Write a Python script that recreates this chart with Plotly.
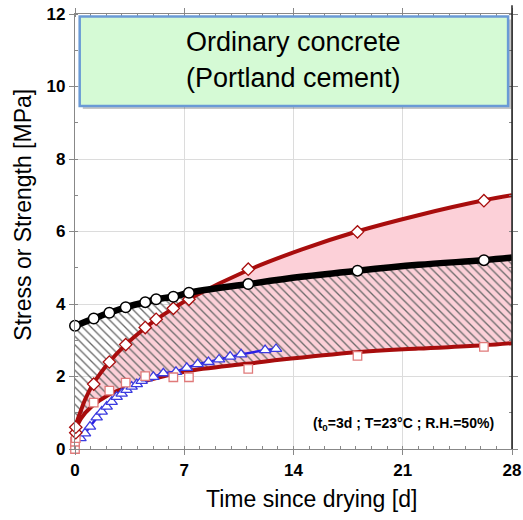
import plotly.graph_objects as go

# ---------------- data ----------------
# measured ages after drying [d]
t_test = [0, 1.2, 2.2, 3.25, 4.5, 5.2, 6.3, 7.3, 11.1, 18.1, 26.2]
# tensile strength (circles, black)
strength = [3.40, 3.60, 3.76, 3.91, 4.05, 4.13, 4.20, 4.31, 4.55, 4.92, 5.21]
# black strength curve
t_strength_curve = [0, 1.2, 2.2, 3.25, 4.5, 5.2, 6.3, 7.3, 11.1, 14.5, 18.1, 22, 26.2, 28]
strength_curve = [3.40, 3.60, 3.76, 3.91, 4.05, 4.13, 4.20, 4.31, 4.55, 4.75, 4.92, 5.08, 5.21, 5.28]

# elastic stress (diamonds, upper red)
t_diam = [0.05, 0.05, 1.2, 2.2, 3.25, 4.5, 5.2, 6.3, 7.3, 11.1, 18.1, 26.2]
stress_elastic = [0.45, 0.60, 1.79, 2.40, 2.88, 3.35, 3.58, 3.88, 4.13, 4.96, 5.99, 6.85]
t_upper_curve = [0, 0.2, 0.43, 0.64, 1.17, 2.2, 3.25, 4.53, 5.23, 6.3, 7.27, 11.07, 14.5, 18.06, 22, 26.2, 28]
upper_curve = [0.55, 0.85, 1.12, 1.36, 1.80, 2.40, 2.88, 3.35, 3.58, 3.88, 4.13, 4.93, 5.50, 6.0, 6.45, 6.86, 7.0]

# relaxed stress (squares, lower red)
t_sq = [0, 0, 0.05, 1.2, 2.2, 3.25, 4.5, 6.3, 7.3, 11.1, 18.1, 26.2]
stress_relaxed = [0.0, 0.2, 0.3, 1.28, 1.61, 1.83, 2.01, 1.98, 1.98, 2.21, 2.57, 2.82]
t_lower_curve = [0, 0.4, 1.07, 2.14, 3.2, 4.7, 7.1, 11, 13.1, 18.06, 22, 26.2, 28]
lower_curve = [0.5, 0.85, 1.17, 1.49, 1.68, 1.9, 2.14, 2.35, 2.46, 2.67, 2.77, 2.86, 2.92]

# restrained shrinkage test (blue triangles)
t_blue = [0.35, 0.64, 0.96, 1.39, 1.71, 2.03, 2.35, 2.67, 2.99, 3.3, 3.63, 3.96, 4.27, 4.6,
          5.02, 5.66, 6.47, 7.16, 7.86, 8.55, 9.23, 9.94, 10.64, 12.18, 12.88]
stress_blue = [0.30, 0.43, 0.62, 0.87, 1.03, 1.17, 1.30, 1.44, 1.53, 1.63, 1.72, 1.79, 1.88, 1.95,
               1.99, 2.09, 2.13, 2.24, 2.34, 2.40, 2.47, 2.55, 2.61, 2.73, 2.76]

x_ticks = [0, 7, 14, 21, 28]
y_ticks = [0, 2, 4, 6, 8, 10, 12]

title_lines = ["Ordinary concrete", "(Portland cement)"]
conditions = "(t<sub>0</sub>=3d ; T=23°C ; R.H.=50%)"
x_title = "Time since drying [d]"
y_title = "Stress or Strength [MPa]"

# ---------------- styles ----------------
RED = "#a80d0d"
PINK = "#fcd0d8"
FONT = "Liberation Sans, Arial, sans-serif"

fig = go.Figure()

# pink band between the two red curves
fig.add_trace(go.Scatter(x=t_lower_curve, y=lower_curve, mode="lines",
                         line=dict(width=0, shape="spline", color=RED),
                         hoverinfo="skip", showlegend=False))
fig.add_trace(go.Scatter(x=t_upper_curve, y=upper_curve, mode="lines",
                         line=dict(width=0, shape="spline", color=RED),
                         fill="tonexty", fillcolor=PINK,
                         hoverinfo="skip", showlegend=False))
# hatched band between black strength curve and lower red curve
fig.add_trace(go.Scatter(x=t_lower_curve, y=lower_curve, mode="lines",
                         line=dict(width=0, shape="spline", color=RED),
                         hoverinfo="skip", showlegend=False))
fig.add_trace(go.Scatter(x=t_strength_curve, y=strength_curve, mode="lines",
                         line=dict(width=0, shape="spline", color="black"),
                         fill="tonexty", fillcolor="rgba(0,0,0,0)",
                         fillpattern=dict(shape="\\", fgcolor="#6a6a6a",
                                          bgcolor="rgba(0,0,0,0)",
                                          size=6, solidity=0.22, fillmode="replace"),
                         hoverinfo="skip", showlegend=False))

# visible lines
fig.add_trace(go.Scatter(x=t_lower_curve, y=lower_curve, mode="lines",
                         line=dict(width=4, shape="spline", color=RED),
                         showlegend=False, cliponaxis=False))
fig.add_trace(go.Scatter(x=t_upper_curve, y=upper_curve, mode="lines",
                         line=dict(width=4, shape="spline", color=RED),
                         showlegend=False, cliponaxis=False))
fig.add_trace(go.Scatter(x=t_strength_curve, y=strength_curve, mode="lines",
                         line=dict(width=6.5, shape="spline", color="black"),
                         showlegend=False, cliponaxis=False))
fig.add_trace(go.Scatter(x=t_blue, y=stress_blue, mode="lines+markers",
                         line=dict(width=2.5, color="#2a1ee6"),
                         marker=dict(symbol="triangle-up", size=10, color="white",
                                     line=dict(color="#3b3be0", width=1.3)),
                         showlegend=False, cliponaxis=False))

# markers
fig.add_trace(go.Scatter(x=t_sq, y=stress_relaxed, mode="markers",
                         marker=dict(symbol="square", size=8.5, color="white",
                                     line=dict(color="#e07a7a", width=1.3)),
                         showlegend=False, cliponaxis=False))
fig.add_trace(go.Scatter(x=t_diam, y=stress_elastic, mode="markers",
                         marker=dict(symbol="diamond", size=9.5, color="white",
                                     line=dict(color=RED, width=1.3)),
                         showlegend=False, cliponaxis=False))
fig.add_trace(go.Scatter(x=t_test, y=strength, mode="markers",
                         marker=dict(symbol="circle", size=10.5, color="white",
                                     line=dict(color="black", width=1.5)),
                         showlegend=False, cliponaxis=False))

# title box with shadow
fig.add_shape(type="rect", xref="x", yref="y", x0=0.5, x1=27.95, y0=9.38, y1=11.85,
              fillcolor="rgba(0,0,0,0.22)", line=dict(width=0), layer="above")
fig.add_shape(type="rect", xref="x", yref="y", x0=0.3, x1=27.75, y0=9.46, y1=11.93,
              fillcolor="#d5fad5", line=dict(color="#6a9ad6", width=2.5), layer="above")
for line_text, y_line in zip(title_lines, [11.22, 10.23]):
    fig.add_annotation(x=14.0, y=y_line, xref="x", yref="y",
                       text=line_text, showarrow=False,
                       xanchor="center", yanchor="middle",
                       font=dict(family=FONT, size=27, color="black"))

fig.add_annotation(x=27.0, y=0.68, xref="x", yref="y", text=conditions,
                   showarrow=False, xanchor="right", yanchor="middle",
                   font=dict(family=FONT, size=14, color="black", weight="bold"))

# axis titles
fig.add_annotation(x=0.542, y=-0.115, xref="paper", yref="paper", text=x_title,
                   showarrow=False, xanchor="center", yanchor="middle",
                   font=dict(family=FONT, size=23, color="black"))
fig.add_annotation(x=-0.121, y=0.539, xref="paper", yref="paper", text=y_title,
                   showarrow=False, textangle=-90, xanchor="center", yanchor="middle",
                   font=dict(family=FONT, size=23, color="black"))

# dark right border
fig.add_shape(type="line", xref="paper", yref="paper", x0=1, x1=1, y0=0, y1=1.02,
              line=dict(color="#222", width=1.5), layer="above")

axis_common = dict(showline=True, linecolor="#888", linewidth=1.2, mirror="ticks",
                   showgrid=True, gridcolor="#dcdcdc", gridwidth=1, zeroline=False,
                   ticks="outside", ticklen=5, tickcolor="#888", automargin=False,
                   tickfont=dict(family=FONT, size=17, color="black", weight="bold"))

fig.update_xaxes(range=[0, 28], tickvals=x_ticks,
                 minor=dict(dtick=1, ticks="inside", ticklen=3, tickcolor="#888", showgrid=False),
                 **axis_common)
fig.update_yaxes(range=[0, 12], tickvals=y_ticks,
                 minor=dict(dtick=1, ticks="inside", ticklen=3, tickcolor="#888", showgrid=False),
                 **axis_common)

fig.update_layout(width=523, height=520,
                  margin=dict(l=75, r=11, t=14, b=71),
                  plot_bgcolor="white", paper_bgcolor="white",
                  showlegend=False)

fig.write_html("out.html")
